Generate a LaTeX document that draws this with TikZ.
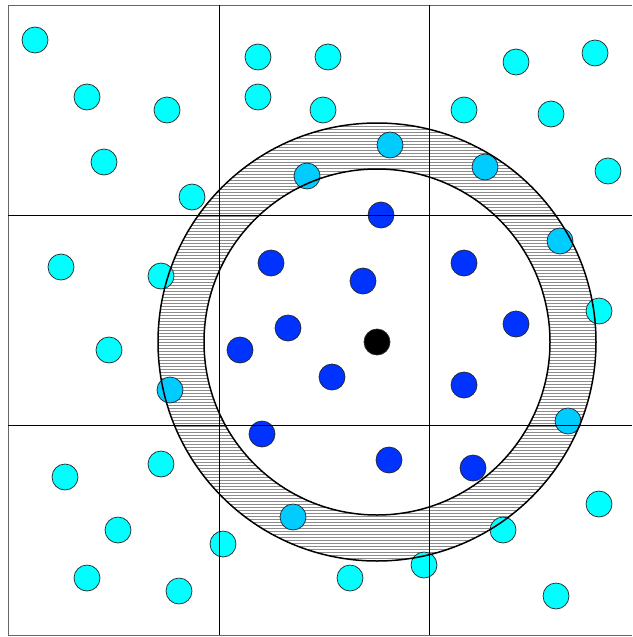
\documentclass[tikz,border=0pt]{standalone}
\usetikzlibrary{patterns}
\definecolor{outc}{HTML}{00FFFF}
\definecolor{ringc}{HTML}{00CCFF}
\definecolor{inc}{HTML}{0033FF}
\tikzset{
  dot/.style={circle,draw=black!85,line width=0.7pt,minimum size=26pt,inner sep=0pt},
  outdot/.style={dot,fill=outc},
  ringdot/.style={dot,fill=ringc},
  indot/.style={dot,fill=inc},
  gridline/.style={line width=0.9pt,black},
  ringline/.style={line width=1.5pt,black}
}
\begin{document}
\begin{tikzpicture}[x=1pt,y=-1pt]
\useasboundingbox (0,0) rectangle (632,637);
\fill[white] (0,0) rectangle (632,637);
% hatched ring
\coordinate (c) at (377,342);
\fill[pattern=horizontal lines,pattern color=black!45,even odd rule]
  (c) circle[radius=219] (c) circle[radius=173];
% dots outside
\foreach \x/\y [count=\i] in {35/40,87/97,167/110,104/162,192/197,258/57,328/57,258/97,323/110,516/62,595/53,464/110,551/114,608/171,61/267,161/276,109/350,599/311,65/477,161/464,118/530,223/544,87/578,179/591,350/578,424/565,503/530,599/504,556/596}
  \node[outdot] (o\i) at (\x,\y) {};
\foreach \x/\y [count=\i] in {390/145,307/176,485/167,560/241,170/390,568/421,293/517}
  \node[ringdot] (r\i) at (\x,\y) {};
\foreach \x/\y [count=\i] in {381/215,271/263,363/281,464/263,288/328,240/350,516/324,332/377,464/385,262/434,389/460,473/468}
  \node[indot] (b\i) at (\x,\y) {};
\node[dot,fill=black] (center) at (c) {};
% grid
\draw[line width=1pt,black!60] (632,5) -- (8,5) -- (8,635) -- (632,635);
\draw[gridline] (219,5) -- (219,635);
\draw[gridline] (429,5) -- (429,635);
\draw[gridline] (8,215) -- (632,215);
\draw[gridline] (8,425) -- (632,425);
% ring outlines
\draw[ringline] (c) circle[radius=219];
\draw[ringline] (c) circle[radius=173];
\end{tikzpicture}
\end{document}
